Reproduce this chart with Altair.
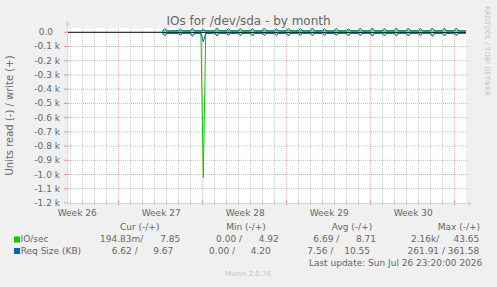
import altair as alt
import pandas as pd

# ---------------- layout constants ----------------
W, H = 399, 175           # plot area
PL, PT = 67, 28           # plot area offset in the 497x287 canvas
FONT = "DejaVu Sans"
TXT = "#666666"
AXIS_C = "#CFD6F8"
GRID_C = "#cfcfcf"
MGRID_C = "#f0a8a8"

# ---------------- data ----------------
# x in days from the left edge of the graph window
x_domain = [0.0, 33.25]
y_domain = [-1200, 30]

week_labels = ["Week 26", "Week 27", "Week 28", "Week 29", "Week 30"]
week_label_days = [0.85, 7.85, 14.85, 21.85, 28.85]
week_start_days = [4.25, 11.25, 18.25, 25.25, 32.25]
day_lines = [0.25, 1.25, 2.25, 3.25, 5.25, 6.25, 7.25, 8.25, 9.25, 10.25,
             12.25, 13.25, 14.25, 15.25, 16.25, 17.25, 19.25, 20.25, 21.25,
             22.25, 23.25, 24.25, 26.25, 27.25, 28.25, 29.25, 30.25, 31.25]

y_ticks = [0, -100, -200, -300, -400, -500, -600, -700, -800, -900, -1000, -1100, -1200]
y_labels = ["0.0", "-0.1 k", "-0.2 k", "-0.3 k", "-0.4 k", "-0.5 k", "-0.6 k",
            "-0.7 k", "-0.8 k", "-0.9 k", "-1.0 k", "-1.1 k", "-1.2 k"]

data_start = 7.94
data_end = 33.25
peak_days = [8.15, 9.45, 10.45, 11.36, 12.5, 13.45, 14.45, 15.45, 16.45, 17.45,
             18.45, 19.45, 20.45, 21.45, 22.45, 23.45, 24.45, 25.45, 26.45,
             27.45, 28.45, 29.45, 30.45, 31.45, 32.45]

# IO/sec write (+) / read (-)
io_write_base = 8.7
io_write_peak = [16, 13, 17, 22, 15, 13, 14, 17, 13, 15, 14, 13, 17, 14, 13,
                 15, 14, 18, 15, 17, 16, 14, 18, 16, 15]
io_read_base = -6.7
io_read_peak = [-14, -12, -16, -1020, -14, -12, -13, -14, -12, -13, -14, -12,
                -13, -14, -12, -13, -14, -15, -13, -14, -14, -12, -15, -14, -13]
# Req size write (+) / read (-)
rq_write_base = 10.5
rq_write_peak = [26, 22, 28, 14, 30, 24, 28, 26, 30, 24, 28, 26, 30, 25, 28,
                 24, 29, 30, 28, 30, 30, 28, 30, 29, 30]
rq_read_base = -7.5
rq_read_peak = [-24, -20, -30, -66, -26, -21, -24, -26, -22, -24, -26, -22,
                -25, -24, -21, -26, -24, -28, -26, -28, -27, -24, -30, -26, -24]


def series_frame(base, peaks):
    rows = [{"t": data_start, "v": base}]
    for d, p in zip(peak_days, peaks):
        rows += [{"t": d - 0.2, "v": base}, {"t": d, "v": p}, {"t": d + 0.2, "v": base}]
    rows.append({"t": data_end, "v": base})
    return pd.DataFrame(rows)


xs = alt.Scale(domain=x_domain, nice=False, zero=False)
ys = alt.Scale(domain=y_domain, nice=False, zero=False)

layers = []

# background grid
days_df = pd.DataFrame({"d": day_lines})
weeks_df = pd.DataFrame({"d": week_start_days})
yt_df = pd.DataFrame({"v": y_ticks, "lab": y_labels})

layers.append(alt.Chart(days_df).mark_rule(color=GRID_C, strokeDash=[1, 1], strokeWidth=1, xOffset=0.5)
              .encode(x=alt.X("d:Q", scale=xs, axis=None)))
layers.append(alt.Chart(weeks_df).mark_rule(color=MGRID_C, strokeDash=[1, 1], strokeWidth=1, xOffset=0.5)
              .encode(x=alt.X("d:Q", scale=xs, axis=None)))
layers.append(alt.Chart(yt_df).transform_filter("datum.v < 0 && datum.v > -1200")
              .mark_rule(color=MGRID_C, strokeDash=[1, 1], strokeWidth=1)
              .encode(y=alt.Y("v:Q", scale=ys, axis=None), x=alt.value(0), x2=alt.value(W + 2)))

# ticks
layers.append(alt.Chart(days_df).mark_rule(color="#c8c8c8", xOffset=0.5)
              .encode(x=alt.X("d:Q", scale=xs, axis=None), y=alt.value(H - 2), y2=alt.value(H + 2)))
layers.append(alt.Chart(weeks_df).mark_rule(color="#ee8888", xOffset=0.5)
              .encode(x=alt.X("d:Q", scale=xs, axis=None), y=alt.value(H - 2), y2=alt.value(H + 2)))
layers.append(alt.Chart(yt_df).mark_rule(color="#ee8888")
              .encode(y=alt.Y("v:Q", scale=ys, axis=None), x=alt.value(-3), x2=alt.value(2)))

# zero line (under data)
layers.append(alt.Chart(pd.DataFrame({"v": [0]})).mark_rule(color="#000000", strokeWidth=1)
              .encode(y=alt.Y("v:Q", scale=ys, axis=None)))

# data lines
for base, peaks, col in [(io_write_base, io_write_peak, "#00CC00"),
                         (io_read_base, io_read_peak, "#00CC00"),
                         (rq_write_base, rq_write_peak, "#0066B3"),
                         (rq_read_base, rq_read_peak, "#0066B3")]:
    layers.append(alt.Chart(series_frame(base, peaks))
                  .mark_line(color=col, strokeWidth=1, clip=True)
                  .encode(x=alt.X("t:Q", scale=xs, axis=None),
                          y=alt.Y("v:Q", scale=ys, axis=None),
                          order="t:Q"))

# zero line dotted over data
layers.append(alt.Chart(pd.DataFrame({"a": [data_start], "b": [data_end], "v": [0]}))
              .mark_rule(color="#000000", strokeWidth=1, strokeDash=[1, 1])
              .encode(x=alt.X("a:Q", scale=xs, axis=None), x2="b:Q",
                      y=alt.Y("v:Q", scale=ys, axis=None)))

# axes
layers.append(alt.Chart(alt.Data(values=[{}])).mark_rule(color=AXIS_C, xOffset=0.5)
              .encode(x=alt.value(0), y=alt.value(H + 2), y2=alt.value(-4)))
layers.append(alt.Chart(alt.Data(values=[{}])).mark_rule(color=AXIS_C, yOffset=0.5)
              .encode(y=alt.value(H), x=alt.value(-3), x2=alt.value(W + 2)))
layers.append(alt.Chart(alt.Data(values=[{}])).mark_point(shape="triangle-up", filled=True, color=AXIS_C, size=30, opacity=1)
              .encode(x=alt.value(0.5), y=alt.value(-5)))
layers.append(alt.Chart(alt.Data(values=[{}])).mark_point(shape="triangle-right", filled=True, color=AXIS_C, size=30, opacity=1)
              .encode(x=alt.value(W + 4), y=alt.value(H + 0.5)))

# tick labels
wl_df = pd.DataFrame({"d": week_label_days, "lab": week_labels})
layers.append(alt.Chart(wl_df).mark_text(font=FONT, fontSize=9, color=TXT, align="center", baseline="middle")
              .encode(x=alt.X("d:Q", scale=xs, axis=None), y=alt.value(H + 10), text="lab:N"))
layers.append(alt.Chart(yt_df).transform_filter("datum.v < 0")
              .mark_text(font=FONT, fontSize=9, color=TXT, align="right", baseline="middle")
              .encode(y=alt.Y("v:Q", scale=ys, axis=None), x=alt.value(-7), text="lab:N"))
layers.append(alt.Chart(yt_df).transform_filter("datum.v == 0")
              .mark_text(font=FONT, fontSize=9, color=TXT, align="right", baseline="middle")
              .encode(y=alt.Y("v:Q", scale=ys, axis=None), x=alt.value(-14), text="lab:N"))

# legend squares
for yy, col in [(236.5, "#00CC00"), (248.0, "#0066B3")]:
    layers.append(alt.Chart(alt.Data(values=[{}])).mark_rect(color=col)
                  .encode(x=alt.value(14 - PL), x2=alt.value(20 - PL),
                          y=alt.value(yy - PT), y2=alt.value(yy + 6 - PT)))

# free texts: (text, abs x, abs y, align, size, color, angle)
texts = [
    ("IOs for /dev/sda - by month", 248.5, 20.5, "center", 12, TXT, 0),
    ("Units read (-) / write (+)", 10, 115.5, "center", 10, TXT, 270),
    ("RRDTOOL / TOBI OETIKER", 487, 51, "center", 7, "#c4c4c4", 90),
    ("Cur (-/+)", 139.7, 226.7, "center", 9, TXT, 0),
    ("Min (-/+)", 246, 226.7, "center", 9, TXT, 0),
    ("Avg (-/+)", 352, 226.7, "center", 9, TXT, 0),
    ("Max (-/+)", 480, 226.7, "right", 9, TXT, 0),
    ("IO/sec", 20.5, 239.3, "left", 9, TXT, 0),
    ("194.83m/", 143.3, 239.3, "right", 9, TXT, 0),
    ("7.85", 180.3, 239.3, "right", 9, TXT, 0),
    ("0.00 /", 242, 239.3, "right", 9, TXT, 0),
    ("4.92", 278.7, 239.3, "right", 9, TXT, 0),
    ("6.69 /", 339.3, 239.3, "right", 9, TXT, 0),
    ("8.71", 376, 239.3, "right", 9, TXT, 0),
    ("2.16k/", 439.3, 239.3, "right", 9, TXT, 0),
    ("43.65", 479.3, 239.3, "right", 9, TXT, 0),
    ("Req Size (KB)", 20.7, 251, "left", 9, TXT, 0),
    ("6.62 /", 137.7, 251, "right", 9, TXT, 0),
    ("9.67", 173.3, 251, "right", 9, TXT, 0),
    ("0.00 /", 235, 251, "right", 9, TXT, 0),
    ("4.20", 270.7, 251, "right", 9, TXT, 0),
    ("7.56 /", 333.3, 251, "right", 9, TXT, 0),
    ("10.55", 370, 251, "right", 9, TXT, 0),
    ("261.91 /", 445, 251, "right", 9, TXT, 0),
    ("361.58", 479.3, 251, "right", 9, TXT, 0),
    ("Last update: Sun Jul 26 23:20:00 2026", 482.3, 262.7, "right", 9, TXT, 0),
    ("Munin 2.0.76", 248, 274, "center", 7, "#c4c4c4", 0),
]
for t, ax, ay, al, fs, col, ang in texts:
    mk = dict(font=FONT, fontSize=fs, color=col, align=al, baseline="middle")
    if ang:
        mk["angle"] = ang
    layers.append(alt.Chart(alt.Data(values=[{}])).mark_text(**mk)
                  .encode(x=alt.value(ax - PL), y=alt.value(ay - PT), text=alt.value(t)))

chart = alt.layer(*layers).properties(
    width=W, height=H,
    padding={"left": PL, "top": PT, "right": 497 - PL - W, "bottom": 287 - PT - H},
    autosize=alt.AutoSizeParams(type="none"),
    background="#F0F0F0",
).configure_view(fill="#FFFFFF", stroke=None)

chart.save("out.html", embed_options={"renderer": "svg", "actions": False})
